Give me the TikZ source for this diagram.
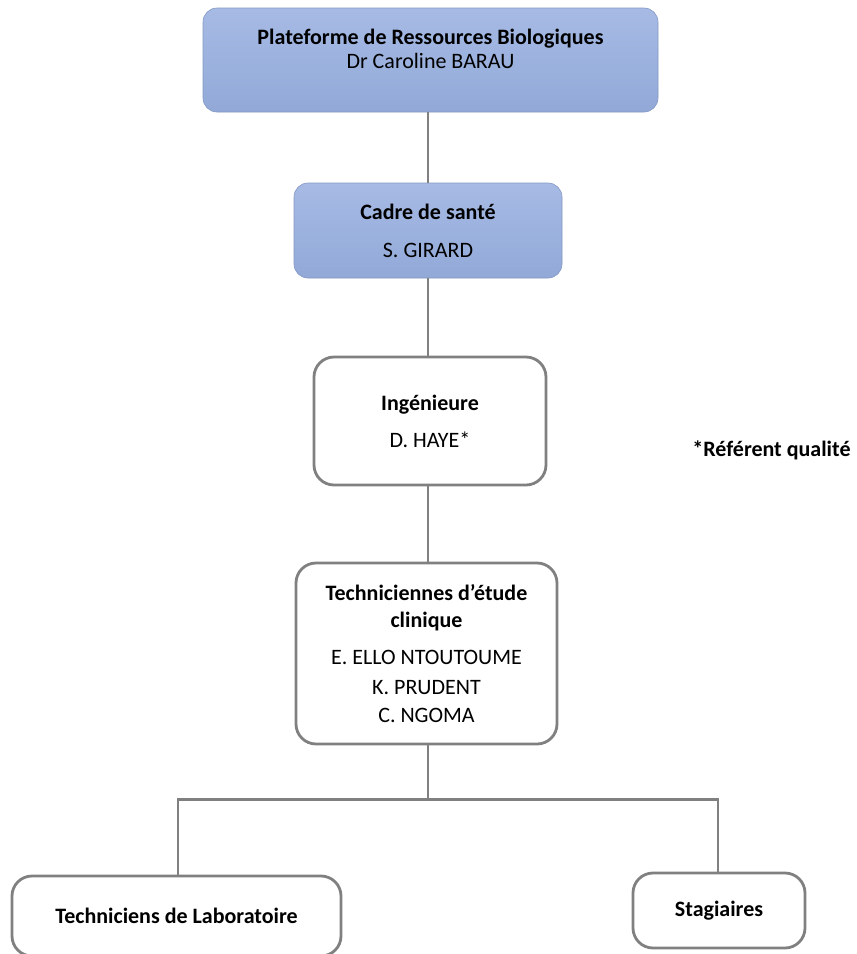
\documentclass[tikz,border=0pt]{standalone}
\usepackage{fontspec}
\setmainfont{Carlito}
\definecolor{boxblue}{RGB}{146,169,216}
\definecolor{boxbluetop}{RGB}{166,186,228}
\definecolor{boxgray}{RGB}{128,128,128}
\tikzset{
  bluebox/.style={rounded corners=14pt, top color=boxbluetop, bottom color=boxblue,
    draw=boxblue!90!black, line width=0.6pt, align=center, inner sep=0pt,
    font=\fontsize{22}{24}\selectfont},
  whitebox/.style={draw=boxgray, line width=2.8pt, rounded corners=20pt, fill=white,
    align=center, inner sep=0pt, font=\fontsize{22}{27}\selectfont},
  link/.style={draw=boxgray, line width=2.8pt}
}
\begin{document}
\begin{tikzpicture}[x=1pt,y=-1pt]
  \useasboundingbox (0,0) rectangle (857,954);
  % boxes
  \node[bluebox, minimum width=455pt, minimum height=104pt] (prb) at (430.5,60)
    {\textbf{Plateforme de Ressources Biologiques}\\Dr Caroline BARAU\\[-2pt]\mbox{}};
  \node[bluebox, minimum width=268pt, minimum height=95pt] (cadre) at (428,230.5)
    {\textbf{Cadre de santé}\\[14pt]S. GIRARD};
  \node[whitebox, minimum width=232pt, minimum height=128pt] (inge) at (430,421)
    {\textbf{Ingénieure}\\[10pt]D. HAYE*};
  \node[whitebox, minimum width=261pt, minimum height=181pt] (tec) at (426.5,653.5)
    {\textbf{Techniciennes d’étude}\\\textbf{clinique}\\[10pt]E. ELLO NTOUTOUME\\[3pt]K. PRUDENT\\[1pt]C. NGOMA};
  \node[whitebox, minimum width=329pt, minimum height=80pt] (labo) at (176.5,916)
    {\textbf{Techniciens de Laboratoire}};
  \node[whitebox, minimum width=172pt, minimum height=75pt] (stag) at (719,910.5)
    {\textbf{Stagiaires}};
  \node[font=\fontsize{22}{27}\selectfont\bfseries] (note) at (771.5,450) {*Référent qualité};
  % connectors
  \draw[link] (cadre.north |- prb.south) -- (cadre.north);
  \draw[link] (cadre.south) -- (cadre.south |- inge.north);
  \draw[link] (cadre.south |- inge.south) -- (cadre.south |- tec.north);
  \coordinate (fork) at ([yshift=-54pt]cadre.south |- tec.south);
  \draw[link] (cadre.south |- tec.south) -- (fork);
  \draw[link] ([xshift=1.5pt]labo.north) |- (fork) -| ([xshift=-1pt]stag.north);
\end{tikzpicture}
\end{document}
